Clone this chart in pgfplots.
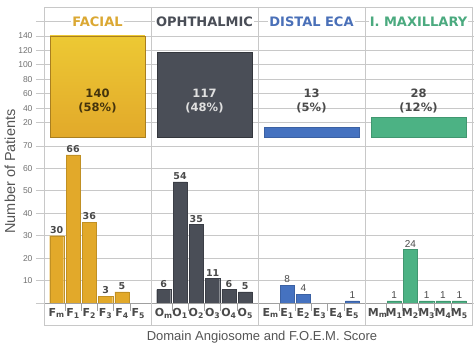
\documentclass[border=0pt]{standalone}
\usepackage{pgfplots}
\pgfplotsset{compat=1.18}
\usepackage{fontspec}
\setmainfont{Liberation Sans}
\newfontfamily\dv{DejaVu Sans}
\definecolor{fac}{HTML}{E2A92A}
\definecolor{facT}{HTML}{DBA833}
\definecolor{oph}{HTML}{4A4E57}
\definecolor{dis}{HTML}{4572C0}
\definecolor{disT}{HTML}{4A70B8}
\definecolor{mxl}{HTML}{4CB284}
\definecolor{mxlT}{HTML}{4BAA7F}
\definecolor{gridc}{HTML}{C8C8C8}
\definecolor{sepc}{HTML}{A0A0A0}
\definecolor{darkt}{HTML}{4A4A4A}
\definecolor{tickc}{HTML}{707070}
\definecolor{labc}{HTML}{555555}
\begin{document}
\begin{tikzpicture}
\useasboundingbox (0,0) rectangle (474pt,354pt);
% ---------------- bottom panel ----------------
\begin{axis}[
  at={(44pt,51pt)}, anchor=south west,
  scale only axis, width=428pt, height=166pt,
  xmin=0, xmax=26.24, ymin=0, ymax=74,
  axis line style={draw=none},
  ytick={0,10,20,...,70},
  yticklabels={,10,20,30,40,50,60,70},
  ymajorgrids, grid style={draw=gridc, line width=0.7pt},
  tick align=outside, major tick length=8pt,
  ytick style={draw=gridc, line width=0.7pt},
  yticklabel style={font=\fontsize{8.5}{9}\selectfont, text=tickc},
  /pgf/number format/assume math mode=true,
  xtick={0.78,1.78,2.78,3.78,4.78,5.78,7.34,8.34,9.34,10.34,11.34,12.34,13.90,14.90,15.90,16.90,17.90,18.90,20.46,21.46,22.46,23.46,24.46,25.46},
  xticklabels={F\textsubscript{m},F\textsubscript{1},F\textsubscript{2},F\textsubscript{3},F\textsubscript{4},F\textsubscript{5},
               O\textsubscript{m},O\textsubscript{1},O\textsubscript{2},O\textsubscript{3},O\textsubscript{4},O\textsubscript{5},
               E\textsubscript{m},E\textsubscript{1},E\textsubscript{2},E\textsubscript{3},E\textsubscript{4},E\textsubscript{5},
               M\textsubscript{m},M\textsubscript{1},M\textsubscript{2},M\textsubscript{3},M\textsubscript{4},M\textsubscript{5}},
  xtick style={draw=none},
  xticklabel style={font=\dv\bfseries\fontsize{11}{12}\selectfont, text=darkt, inner sep=1pt, yshift=4pt},
  ybar, bar width=0.86, bar shift=0pt,
  nodes near coords,
  clip=false,
]
\addplot[fill=fac, draw=fac!85!black, line width=0.3pt,
  every node near coord/.append style={font=\dv\bfseries\fontsize{9.5}{10}\selectfont, text=darkt, inner sep=2pt}]
  coordinates {(0.78,30) (1.78,66) (2.78,36) (3.78,3) (4.78,5)};
\addplot[fill=oph, draw=oph!80!black, line width=0.3pt,
  every node near coord/.append style={font=\dv\bfseries\fontsize{9.5}{10}\selectfont, text=darkt, inner sep=2pt}]
  coordinates {(7.34,6) (8.34,54) (9.34,35) (10.34,11) (11.34,6) (12.34,5)};
\addplot[fill=dis, draw=dis!85!black, line width=0.3pt,
  every node near coord/.append style={font=\fontsize{10}{11}\selectfont, text=darkt, inner sep=2pt}]
  coordinates {(14.90,8) (15.90,4) (18.90,1)};
\addplot[fill=mxl, draw=mxl!85!black, line width=0.3pt,
  every node near coord/.append style={font=\fontsize{10}{11}\selectfont, text=darkt, inner sep=2pt}]
  coordinates {(21.46,1) (22.46,24) (23.46,1) (24.46,1) (25.46,1)};
\pgfplotsinvokeforeach{1.28,2.28,3.28,4.28,5.28,7.84,8.84,9.84,10.84,11.84,14.40,15.40,16.40,17.40,18.40,20.96,21.96,22.96,23.96,24.96}{
  \draw[sepc, line width=0.7pt] (axis cs:#1,0) -- ([yshift=-8pt]axis cs:#1,0);
}
\draw[sepc, line width=0.7pt] (axis cs:0,0) -- (axis cs:26.24,0);
\end{axis}
% ---------------- top panel ----------------
\begin{axis}[
  at={(44pt,217pt)}, anchor=south west,
  scale only axis, width=428pt, height=130pt,
  xmin=0, xmax=26.24, ymin=0, ymax=180,
  axis line style={draw=none},
  ytick={20,40,...,160},
  yticklabels={20,40,60,80,100,120,140,},
  ymajorgrids, grid style={draw=gridc, line width=0.7pt},
  tick align=outside, major tick length=8pt,
  ytick style={draw=gridc, line width=0.7pt},
  yticklabel style={font=\fontsize{8.5}{9}\selectfont, text=tickc},
  /pgf/number format/assume math mode=true,
  xtick=\empty,
  ybar, bar width=5.82, bar shift=0pt,
  clip=false,
]
\addplot[top color=fac!70!yellow!90!white, bottom color=fac, draw=fac!75!black, line width=0.4pt]
  coordinates {(3.28,140)};
\addplot[fill=oph, draw=oph!70!black, line width=0.4pt]
  coordinates {(9.84,117)};
\addplot[fill=dis, draw=dis!85!black, line width=0.3pt]
  coordinates {(16.40,13)};
\addplot[fill=mxl, draw=mxl!85!black, line width=0.3pt]
  coordinates {(22.96,28)};
\begin{scope}[every node/.style={font=\dv\bfseries\fontsize{11.5}{14}\selectfont, align=center}]
\node[text=black!70!fac] at (axis cs:3.28,50) {140\\(58\%)};
\node[text=white!88!black] at (axis cs:9.84,50) {117\\(48\%)};
\node[text=darkt] at (axis cs:16.40,50) {13\\(5\%)};
\node[text=darkt] at (axis cs:22.96,50) {28\\(12\%)};
\end{scope}
\begin{scope}[every node/.style={font=\dv\bfseries\fontsize{13}{14}\selectfont, fill=white, inner sep=1pt}]
\node[text=facT] at (axis cs:3.28,160) {FACIAL};
\node[text=oph] at (axis cs:9.84,160) {OPHTHALMIC};
\node[text=disT] at (axis cs:16.40,160) {DISTAL ECA};
\node[text=mxlT] at (axis cs:22.96,160) {I. MAXILLARY};
\end{scope}
\end{axis}
% ---------------- frame and separators ----------------
\draw[gridc, line width=0.8pt] (44pt,29pt) rectangle (472pt,347pt);
\foreach \xx in {151,258,365} \draw[gridc, line width=0.8pt] (\xx pt,29pt) -- (\xx pt,347pt);
\node[rotate=90, font=\fontsize{14.5}{15}\selectfont, text=labc] at (10pt,182.5pt) {Number of Patients};
\node[font=\fontsize{13}{14}\selectfont, text=labc] at (262pt,17pt) {Domain Angiosome and F.O.E.M. Score};
\end{tikzpicture}
\end{document}
